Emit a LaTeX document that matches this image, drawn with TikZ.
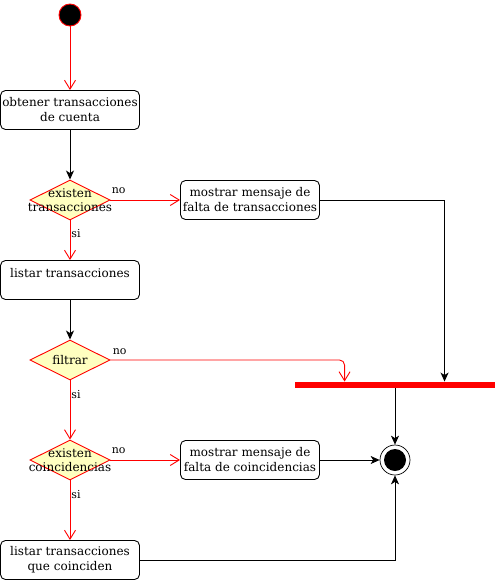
\documentclass[tikz,border=0pt]{standalone}
\usepackage{fontspec}
\setmainfont{DejaVu Serif}
\usetikzlibrary{shapes.geometric,arrows.meta,calc}
\definecolor{decfill}{HTML}{FFFFC0}
\definecolor{flowred}{HTML}{FF0000}

\begin{document}
\begin{tikzpicture}[x=1pt,y=-1pt,line width=0.9pt,
  act/.style={draw=black,fill=white,rounded corners=5pt,minimum width=139pt,
    minimum height=39pt,inner sep=0pt,align=center,
    font=\fontsize{12}{15}\selectfont},
  dec/.style={shape=diamond,draw=flowred,fill=decfill,minimum width=80pt,
    minimum height=40pt,inner sep=0pt},
  dectext/.style={align=center,inner sep=0pt,font=\fontsize{12}{14}\selectfont},
  guard/.style={inner sep=1pt,font=\fontsize{11}{13}\selectfont},
  redflow/.style={draw=flowred,-{Straight Barb[length=9pt,width=11pt]}},
  blackflow/.style={draw=black,line width=1pt,-{Stealth[length=9pt,width=8pt,inset=2.5pt]}},
]
\useasboundingbox (0,0) rectangle (499,581);

% initial and final states
\node[circle,draw=flowred,fill=black,minimum size=22pt,inner sep=0pt] (start) at (70,15) {};
\node[circle,draw=black,fill=white,minimum size=30pt,inner sep=0pt,line width=0.7pt,
  path picture={\fill[black] (path picture bounding box.center) circle (11pt);}] (fin) at (395,460) {};

% actions
\node[act] (obt) at (70,110) {obtener transacciones\\de cuenta};
\node[act] (msg1) at (250,200) {mostrar mensaje de\\falta de transacciones};
\node[act] (lst) at (70,280) {listar transacciones\\\mbox{}};
\node[act] (msg2) at (250,460) {mostrar mensaje de\\falta de coincidencias};
\node[act] (lstc) at (70,560) {listar transacciones\\que coinciden};

% decisions
\node[dec,label={[name=d1t,dectext]center:existen\\transacciones}] (d1) at (70,200) {};
\node[dec,label={[name=d2t,dectext]center:filtrar}] (d2) at (70,360) {};
\node[dec,label={[name=d3t,dectext]center:existen\\coincidencias}] (d3) at (70,460) {};

% join bar
\node[rectangle,fill=flowred,minimum width=200pt,minimum height=6pt,inner sep=0pt] (bar) at (395,385) {};

% flows
\draw[redflow] (start) -- (obt);
\draw[blackflow] (obt) -- (d1);
\draw[redflow] (d1.east) -- (msg1.west)
  node[guard,pos=0,anchor=west,yshift=9pt] (n1) {no};
\draw[redflow] (d1.south) -- (lst.north)
  node[guard,pos=0.33,anchor=west] (s1) {si};
\draw[blackflow] (msg1.east) -| ($(bar.north west)+(150,0)$);
\draw[blackflow] (lst) -- (d2);
\draw[redflow,rounded corners=5pt] (d2.east) -| ($(bar.north west)+(50,0)$);
\node[guard,anchor=west] (n2) at ($(d2.east)+(1,-8)$) {no};
\draw[redflow] (d2.south) -- (d3.north)
  node[guard,pos=0.23,anchor=west] (s2) {si};
\draw[blackflow] (bar.south) -- (fin.north);
\draw[redflow] (d3.east) -- (msg2.west)
  node[guard,pos=0,anchor=west,yshift=9pt] (n3) {no};
\draw[blackflow] (msg2.east) -- (fin.west);
\draw[redflow] (d3.south) -- (lstc.north)
  node[guard,pos=0.23,anchor=west] (s3) {si};
\draw[blackflow] (lstc.east) -| (fin.south);
\end{tikzpicture}
\end{document}
